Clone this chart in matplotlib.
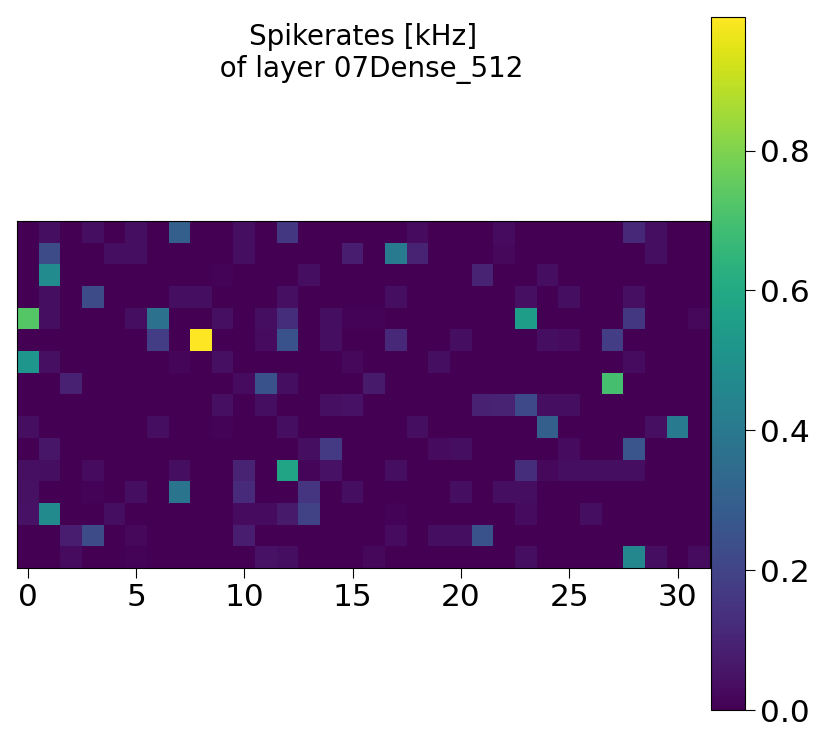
import matplotlib
matplotlib.use('Agg')
import matplotlib.pyplot as plt
import numpy as np

title = 'Spikerates [kHz]\n  of layer 07Dense_512'
num_cols = 32
vmax = 0.991

# one dict per row, column -> rate, everything else is zero
row_values = [
    {1: .035, 3: .035, 5: .035, 7: .3, 10: .035, 12: .16, 18: .03, 22: .03, 28: .11, 29: .035},
    {1: .23, 4: .035, 5: .035, 10: .035, 15: .08, 17: .41, 18: .1, 22: .02, 29: .035},
    {1: .48, 9: .01, 13: .035, 21: .1, 24: .035},
    {1: .035, 3: .23, 7: .035, 8: .035, 12: .04, 17: .035, 23: .04, 25: .035, 28: .04},
    {0: .73, 1: .035, 5: .035, 6: .37, 9: .04, 11: .035, 12: .13, 14: .035, 15: .01, 16: .01, 23: .55, 28: .16, 31: .02},
    {6: .18, 8: vmax, 11: .03, 12: .25, 14: .035, 17: .11, 20: .035, 24: .035, 25: .03, 27: .18},
    {0: .52, 1: .04, 7: .015, 9: .04, 15: .02, 19: .035, 28: .03},
    {2: .09, 10: .03, 11: .25, 12: .035, 16: .07, 27: .7},
    {9: .04, 11: .035, 14: .04, 15: .05, 21: .09, 22: .1, 23: .22, 24: .035, 25: .035},
    {0: .035, 6: .035, 9: .01, 12: .035, 18: .035, 24: .3, 29: .04, 30: .41},
    {1: .06, 13: .035, 14: .17, 19: .03, 20: .035, 25: .03, 28: .26},
    {0: .04, 1: .035, 3: .03, 7: .035, 10: .1, 12: .58, 13: .015, 14: .05, 17: .035, 23: .13, 24: .02, 25: .035, 26: .035, 27: .035, 28: .035},
    {0: .045, 3: .01, 5: .035, 7: .38, 10: .12, 13: .15, 15: .035, 20: .035, 22: .035, 23: .035},
    {0: .05, 1: .47, 4: .035, 10: .03, 11: .03, 12: .07, 13: .19, 17: .01, 23: .03, 26: .035},
    {2: .08, 3: .23, 5: .02, 10: .08, 17: .03, 19: .035, 20: .035, 21: .25},
    {2: .03, 5: .01, 11: .05, 12: .035, 16: .02, 23: .035, 28: .46, 29: .035, 31: .03},
]

rates = np.zeros((len(row_values), num_cols))
for r, row in enumerate(row_values):
    for c, val in row.items():
        rates[r, c] = val

W, H = 819, 737
fig = plt.figure(figsize=(W / 100, H / 100), dpi=100)
ax = fig.add_axes([17 / W, 1 - 568 / H, 693 / W, 347 / H])
im = ax.imshow(rates, cmap='viridis', vmin=0, vmax=vmax, interpolation='nearest', aspect='auto')
ax.set_yticks([])
ax.set_xticks([0, 5, 10, 15, 20, 25, 30])
ax.tick_params(axis='x', labelsize=22.5, length=7)

cax = fig.add_axes([710.5 / W, 1 - 710 / H, 34.5 / W, 693 / H])
cb = fig.colorbar(im, cax=cax)
cb.ax.tick_params(labelsize=22.5, length=7.5)

fig.text(362.8 / W, 1 - 84 / H, title, fontsize=20, ha='center', va='bottom')

fig.savefig('out.png', dpi=100)
